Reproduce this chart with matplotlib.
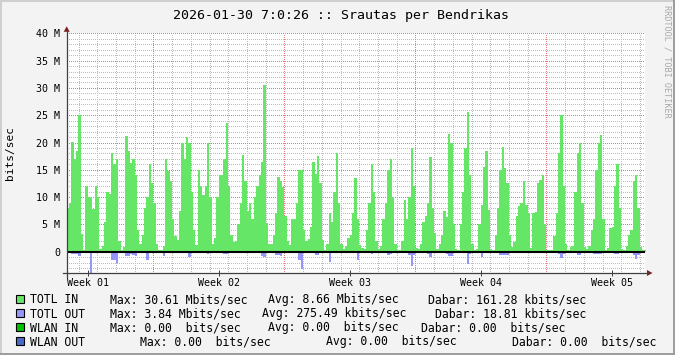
import matplotlib
matplotlib.use("Agg")
import matplotlib.pyplot as plt
import matplotlib.dates as mdates
from matplotlib.lines import Line2D
from matplotlib.patches import Rectangle, Polygon
import numpy as np
from datetime import datetime, timedelta

plt.rcParams['font.family'] = ['DejaVu Sans Mono', 'DejaVu Sans']

# ---------------- data ----------------
TITLE = "2026-01-30 7:0:26 :: Srautas per Bendrikas"
END = datetime(2026, 1, 30, 7, 0, 26)
SPAN_DAYS = 30.93
STEP_HOURS = 3          # one value every 3 hours
UNIT = 1e6              # values below are in Mbit/s

# TOTL IN, Mbit/s (8 values per day)
totl_in = [
    8, 9, 20.1, 17, 18.5, 25, 3.2, 0.3,
    12, 10, 10, 7.8, 12, 10, 0.5, 1,
    5.5, 11, 10.5, 18, 16, 17, 2, 0.3,
    0.8, 21.1, 18.5, 16.3, 17, 14, 4, 1.5,
    3, 8, 10, 16.1, 12.6, 9, 1.5, 0.3,
    0.3, 1, 17, 14.8, 13, 6, 2.8, 2.1,
    7.5, 20, 17, 21, 20, 11, 4, 1.2,
    15, 12, 10.4, 12, 20, 10, 1.5, 2.5,
    10, 14, 14, 17, 23.5, 12, 3, 1.8,
    2, 5, 9, 17.7, 13, 7.5, 9, 6,
    10, 12, 14, 16.5, 30.61, 5.3, 1.5, 1.5,
    3, 7, 13.7, 13, 11.8, 6.5, 2, 1.2,
    6, 6, 8.9, 15, 15, 4, 2, 2.3,
    4.5, 16.5, 14.3, 17.5, 12.5, 2.1, 0.3, 1.5,
    7, 5.5, 11, 18, 9, 1.5, 0.5, 1,
    2.5, 3, 7, 13.5, 6, 1.2, 0.6, 0.5,
    4, 9, 16, 11, 2, 0.5, 1, 6,
    9, 15, 17, 10, 1.5, 0.4, 0.3, 2,
    9.5, 6, 10, 19, 12, 0.6, 0.5, 1.5,
    5.5, 6.5, 9, 17.4, 8, 3.4, 0.5, 1.5,
    3, 7.5, 6.4, 21.5, 20, 5, 0.5, 0.3,
    5, 11, 19, 25.5, 14, 1.5, 0.3, 0.5,
    5, 8.5, 15.6, 18.5, 7.6, 0.5, 0.3, 3,
    8, 15, 19.2, 15.3, 12.5, 3, 0.9, 1.8,
    6.5, 8.3, 9, 13, 8.5, 7, 0.6, 7.1,
    7.3, 12.5, 13.1, 14, 5, 0.4, 0.3, 0.3,
    2.8, 7, 18, 25, 12, 1.5, 0.3, 0.8,
    1.1, 11, 18, 20, 9, 0.8, 0.5, 1,
    4, 6, 15, 20, 21.4, 6, 0.3, 0.6,
    4.3, 4.5, 12, 16, 8, 0.5, 0.3, 1,
    3, 4, 13, 14, 8, 0.9, 0.3, 0.3,
]

# TOTL OUT, Mbit/s (drawn downwards)
totl_out = [
    0.3, 0.3, 0.35, 0.4, 0.45, 0.8, 0.1, 0.02,
    0.2, 0.2, 3.84, 0.2, 0.2, 0.2, 0.05, 0.02,
    0.2, 0.2, 0.25, 1.6, 1.5, 2.0, 0.1, 0.02,
    0.05, 0.7, 0.7, 0.4, 0.6, 0.8, 0.1, 0.02,
    0.1, 0.2, 1.6, 0.2, 0.2, 0.2, 0.05, 0.02,
    0.02, 0.8, 0.2, 0.2, 0.2, 0.1, 0.02, 0.02,
    0.15, 0.2, 0.2, 0.2, 0.9, 0.3, 0.05, 0.02,
    0.2, 0.2, 0.2, 0.3, 0.4, 0.2, 0.02, 0.02,
    0.2, 0.2, 0.2, 0.4, 0.4, 0.2, 0.05, 0.02,
    0.02, 0.1, 0.2, 0.2, 0.2, 0.2, 0.05, 0.02,
    0.2, 0.2, 0.3, 0.8, 0.9, 0.2, 0.02, 0.02,
    0.1, 0.6, 0.6, 0.8, 0.3, 0.2, 0.02, 0.02,
    0.2, 0.2, 0.2, 1.5, 3.1, 0.1, 0.02, 0.02,
    0.2, 0.2, 0.6, 0.6, 0.2, 0.05, 0.02, 0.02,
    1.8, 0.2, 0.2, 0.3, 0.3, 0.02, 0.02, 0.02,
    0.1, 0.1, 0.2, 0.2, 1.6, 0.2, 0.02, 0.02,
    0.2, 0.3, 0.4, 0.3, 0.05, 0.02, 0.02, 0.2,
    0.3, 0.6, 0.4, 0.2, 0.02, 0.02, 0.2, 0.2,
    0.2, 0.1, 0.6, 2.6, 0.6, 0.1, 0.15, 0.05,
    0.3, 0.3, 0.5, 0.9, 0.3, 0.05, 0.02, 0.2,
    0.3, 0.3, 0.5, 0.8, 0.8, 0.3, 0.05, 0.02,
    0.3, 0.3, 0.3, 2.3, 0.5, 0.2, 0.02, 0.2,
    0.3, 1.0, 0.3, 0.3, 0.3, 0.02, 0.02, 0.1,
    0.3, 0.6, 0.6, 0.6, 0.6, 0.1, 0.02, 0.02,
    0.05, 0.2, 0.2, 0.2, 0.2, 0.2, 0.02, 0.2,
    0.2, 0.2, 0.2, 0.2, 0.2, 0.02, 0.02, 0.2,
    0.3, 0.3, 0.4, 1.2, 0.4, 0.2, 0.02, 0.3,
    0.3, 0.3, 0.6, 0.6, 0.3, 0.02, 0.02, 0.02,
    0.3, 0.5, 0.5, 0.5, 0.5, 0.3, 0.02, 0.02,
    0.02, 0.2, 0.4, 0.4, 0.3, 0.02, 0.02, 0.02,
    0.05, 0.2, 0.6, 1.3, 0.6, 0.05, 0.02, 0.02,
]

y_ticks = [0, 5, 10, 15, 20, 25, 30, 35, 40]
y_tick_labels = ["0", "5 M", "10 M", "15 M", "20 M", "25 M", "30 M", "35 M", "40 M"]
y_min, y_max = -3.9, 40.0

legend_names = ["TOTL IN", "TOTL OUT", "WLAN IN", "WLAN OUT"]
legend_colors = ["#66E666", "#9696FA", "#00C000", "#4A6AC8"]
legend_max = ["Max: 30.61 Mbits/sec", "Max: 3.84 Mbits/sec",
              "Max: 0.00  bits/sec", "Max: 0.00  bits/sec"]
legend_avg = ["Avg: 8.66 Mbits/sec", "Avg: 275.49 kbits/sec",
              "Avg: 0.00  bits/sec", "Avg: 0.00  bits/sec"]
legend_now = ["Dabar: 161.28 kbits/sec", "Dabar: 18.81 kbits/sec",
              "Dabar: 0.00  bits/sec", "Dabar: 0.00  bits/sec"]

# ---------------- layout ----------------
W, H = 675, 355
L, R, T, B = 66.7, 645.5, 33.3, 273.0


def fx(px):
    return px / W


def fy(py):
    return 1 - py / H


fig = plt.figure(figsize=(W / 100, H / 100), dpi=100)
fig.patch.set_facecolor('#F3F3F3')
ax = fig.add_axes([fx(L), fy(B), (R - L) / W, (B - T) / H])
ax.set_facecolor('white')
for s in ax.spines.values():
    s.set_visible(False)

start = END - timedelta(days=SPAN_DAYS)
n = len(totl_in)
edges = mdates.date2num([start + timedelta(hours=STEP_HOURS * i) for i in range(n + 1)])
vin = np.array(totl_in) * UNIT
vout = -np.array(totl_out) * UNIT
ax.fill_between(edges, np.append(vin, vin[-1]), step='post',
                color=legend_colors[0], lw=0, zorder=3)
ax.fill_between(edges, np.append(vout, vout[-1]), step='post',
                color=legend_colors[1], lw=0, zorder=3)

x0, x1 = mdates.date2num(start), mdates.date2num(END)
ax.set_xlim(x0, x1)
ax.set_ylim(y_min * UNIT, y_max * UNIT)

minor_style = dict(color='#BDBDBD', lw=0.72, linestyle=(0, (1, 1.6)),
                   antialiased=False, zorder=1)
major_style = dict(color='#E27878', lw=0.72, linestyle=(0, (1, 1.6)),
                   antialiased=False, zorder=2)

# vertical grid: days (minor), week starts (major)
d = datetime(start.year, start.month, start.day) + timedelta(days=1)
label_pos, label_txt = [], []
while d < END:
    ax.axvline(mdates.date2num(d), **(major_style if d.weekday() == 6 else minor_style))
    d += timedelta(days=1)
# week labels centred in each week (weeks starting on Sunday)
s = datetime(start.year, start.month, start.day)
while s.weekday() != 6:
    s -= timedelta(days=1)
while s < END:
    mid = s + timedelta(days=3.5)
    if start < mid < END:
        label_pos.append(mdates.date2num(mid))
        label_txt.append(mid.strftime("Week %V"))
    s += timedelta(days=7)

# horizontal grid
for v in range(int(np.ceil(y_min)), int(y_max) + 1):
    if v == 0:
        continue
    ax.axhline(v * UNIT, **(major_style if v % 5 == 0 else minor_style))

ax.axhline(0, color='black', lw=1.5, zorder=4)

ax.set_yticks([v * UNIT for v in y_ticks])
ax.set_yticklabels(y_tick_labels, fontsize=7.2)
ax.tick_params(axis='y', length=0, pad=4.8)
ax.set_xticks(label_pos)
ax.set_xticklabels(label_txt, fontsize=7.2)
ax.tick_params(axis='x', length=4.3, width=0.72, direction='inout', color='#404040', pad=1.2)

# axes lines and arrows
axis_col = '#404040'
arrow_col = '#801F1F'
fig.add_artist(Line2D([fx(L), fx(L)], [fy(B + 4), fy(T - 3)], transform=fig.transFigure,
                      color=axis_col, lw=0.9))
fig.add_artist(Line2D([fx(L - 4), fx(R + 3)], [fy(B), fy(B)], transform=fig.transFigure,
                      color=axis_col, lw=0.9))
fig.add_artist(Polygon([[fx(L), fy(T - 7)], [fx(L - 3), fy(T - 1.5)], [fx(L + 3), fy(T - 1.5)]],
                       closed=True, transform=fig.transFigure, color=arrow_col, lw=0))
fig.add_artist(Polygon([[fx(R + 7), fy(B)], [fx(R + 1.5), fy(B - 3)], [fx(R + 1.5), fy(B + 3)]],
                       closed=True, transform=fig.transFigure, color=arrow_col, lw=0))

# texts
fig.text(fx(341), fy(18.8), TITLE, fontsize=9.5, ha='center', va='baseline')
fig.text(fx(10), fy(153), "bits/sec", fontsize=8, rotation=90, ha='center', va='center')
fig.text(fx(667), fy(61), "RRDTOOL / TOBI OETIKER", fontsize=6.1, rotation=270,
         ha='center', va='center', color='#A8A8A8')

# legend
row_y = [299, 313.3, 327.3, 341.3]
max_x = [110, 110, 110, 140]
avg_x = [268, 262, 268, 326]
now_x = [428, 435, 421, 512]
for i in range(4):
    yc = row_y[i]
    fig.add_artist(Rectangle((fx(16), fy(yc + 4)), 8 / W, 8 / H, transform=fig.transFigure,
                             facecolor=legend_colors[i], edgecolor='black', lw=0.8))
    base = fy(yc + 4.2)
    fig.text(fx(30), base, legend_names[i], fontsize=8.3, va='baseline')
    fig.text(fx(max_x[i]), base, legend_max[i], fontsize=8.3, va='baseline')
    fig.text(fx(avg_x[i]), base, legend_avg[i], fontsize=8.3, va='baseline')
    fig.text(fx(now_x[i]), base, legend_now[i], fontsize=8.3, va='baseline')

# outer shaded frame
fig.add_artist(Rectangle((0, fy(2)), 1, 2 / H, transform=fig.transFigure, color='#CFCFCF', lw=0))
fig.add_artist(Rectangle((0, 0), 2 / W, 1, transform=fig.transFigure, color='#CFCFCF', lw=0))
fig.add_artist(Rectangle((0, 0), 1, 2 / H, transform=fig.transFigure, color='#9E9E9E', lw=0))
fig.add_artist(Rectangle((fx(673), 0), 2 / W, 1, transform=fig.transFigure, color='#9E9E9E', lw=0))

fig.savefig("out.png", dpi=100, facecolor=fig.get_facecolor())
